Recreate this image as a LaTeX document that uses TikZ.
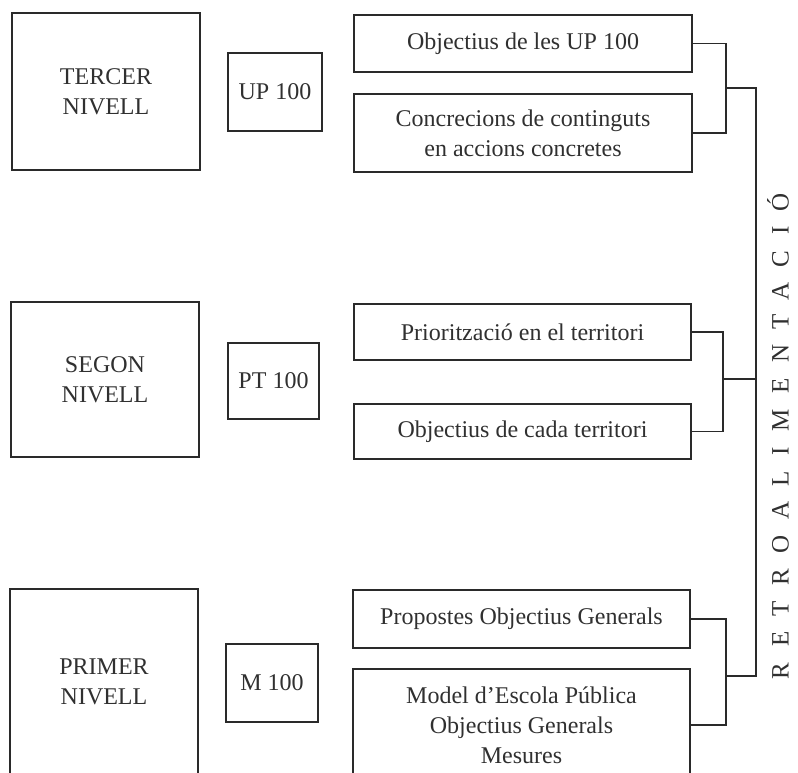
\documentclass[tikz,border=0pt]{standalone}
\usepackage{fontspec}
\setmainfont{Liberation Serif}
\definecolor{ink}{HTML}{2A2A2A}
\definecolor{txt}{HTML}{303030}
\begin{document}
\begin{tikzpicture}[x=1pt,y=-1pt,
  box/.style={draw=ink, line width=1.8pt, inner sep=0pt, align=center, text=txt,
    font=\fontsize{24}{30}\selectfont},
  link/.style={draw=ink, line width=1.3pt}]
\useasboundingbox (0,0) rectangle (798,773);
\clip (0,0) rectangle (798,773);
% levels
\node[box, minimum width=188pt, minimum height=157pt] (t1) at (106,91.5) {TERCER\\NIVELL};
\node[box, minimum width=188pt, minimum height=155pt] (t2) at (105,379.5) {SEGON\\NIVELL};
\node[box, minimum width=188pt, minimum height=186pt] (t3) at (104,682) {PRIMER\\NIVELL};
% codes
\node[box, minimum width=94pt, minimum height=78pt] (u1) at (275,92) {UP 100};
\node[box, minimum width=91pt, minimum height=76pt] (u2) at (273.5,381) {PT 100};
\node[box, minimum width=92pt, minimum height=78pt] (u3) at (272,683) {M 100};
% right boxes
\node[box, minimum width=338pt, minimum height=57pt] (a1) at (523,43.5) {Objectius de les UP 100};
\node[box, minimum width=338pt, minimum height=78pt] (a2) at (523,133) {Concrecions de continguts\\en accions concretes};
\node[box, minimum width=337pt, minimum height=56pt] (b1) at (522.5,332) {Priorització en el territori};
\node[box, minimum width=337pt, minimum height=55pt] (b2) at (522.5,431.5) {Objectius de cada territori};
\node[box, minimum width=337pt, minimum height=58pt] (c1) at (521.5,619) {Propostes Objectius Generals};
\node[box, minimum width=337pt, minimum height=112pt] (c2) at (521.5,725) {Model d’Escola Pública\\Objectius Generals\\Mesures};
% brackets
\coordinate (ja) at (726,88);
\coordinate (jb) at (723,379);
\coordinate (jc) at (726,676);
\coordinate (vt) at (756,88);
\coordinate (vm) at (756,379);
\coordinate (vb) at (756,676);
\draw[link] (a1.east) -| (ja) |- (a2.east);
\draw[link] (b1.east) -| (jb) |- (b2.east);
\draw[link] (c1.east) -| (jc) |- (c2.east);
\draw[link] (ja) -- (vt) -- (vb) -- (jc);
\draw[link] (jb) -- (vm);
% vertical label
\node[rotate=90, text=txt, inner sep=0pt, font=\fontsize{25}{30}\selectfont] (rl) at (778,436)
  {\addfontfeature{LetterSpace=62}RETROALIMENTACIÓ};
\end{tikzpicture}
\end{document}
